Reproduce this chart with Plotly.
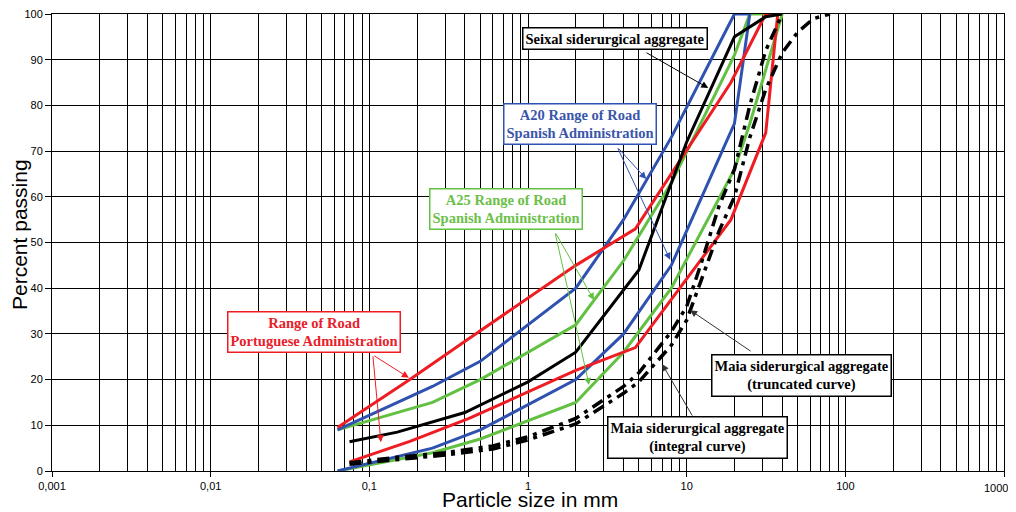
import math
import plotly.graph_objects as go

# ---------------- data ----------------
a20_upper_x = [0.063, 0.25, 0.5, 2, 4, 8, 20, 25]
a20_upper_y = [9, 18.5, 24, 40, 55, 73, 100, 100]
a20_lower_x = [0.063, 0.25, 0.5, 2, 4, 8, 20, 25]
a20_lower_y = [0, 5, 9, 20, 30, 45, 76, 100]

a25_upper_x = [0.063, 0.25, 0.5, 2, 4, 8, 20, 25, 40]
a25_upper_y = [9, 15, 20, 32, 46, 63, 91, 100, 100]
a25_lower_x = [0.063, 0.25, 0.5, 2, 4, 8, 20, 25, 40]
a25_lower_y = [0, 4, 7, 15, 26, 40, 66, 76, 100]

pt_upper_x = [0.063, 0.18, 0.425, 2, 4.75, 19, 31.5, 37.5]
pt_upper_y = [9.5, 20, 29, 45, 53, 85, 100, 100]
pt_lower_x = [0.075, 0.18, 0.425, 2, 4.75, 19, 31.5, 37.5]
pt_lower_y = [2, 6.5, 11.5, 22, 27, 55, 74, 100]

seixal_x = [0.075, 0.15, 0.4, 1, 2, 5, 10, 20, 31.5, 40]
seixal_y = [6.4, 8.5, 12.8, 19.5, 26, 44, 72, 95, 99.4, 100]

maia_trunc_x = [0.075, 0.15, 0.3, 0.6, 1, 2, 4, 5, 8, 10, 12.5, 16, 20, 25, 31.5, 40]
maia_trunc_y = [1.8, 3, 4, 5.5, 7.5, 11.5, 18.5, 21.5, 30.5, 36, 46, 58, 66, 80, 92, 100]

maia_int_x = [0.075, 0.15, 0.3, 0.6, 1, 2, 4, 5, 8, 10, 12.5, 16, 20, 25, 31.5, 40, 50, 63, 80]
maia_int_y = [1.5, 2.5, 3.5, 4.8, 6.8, 10.3, 17, 19.5, 27.5, 33, 42, 52.5, 60, 73, 83.5, 91.5, 96, 99, 100]

x_major = [0.001, 0.01, 0.1, 1, 10, 100, 1000]
x_major_text = ["0,001", "0,01", "0,1", "1", "10", "100", "1000"]
y_ticks = [0, 10, 20, 30, 40, 50, 60, 70, 80, 90, 100]

# ---------------- styles ----------------
BLUE = "#2F52B0"
RED = "#EE1D24"
GREEN = "#62C043"
BLACK = "#000000"
LW = 3

fig = go.Figure()

def add_line(x, y, color, dash="solid", width=LW):
    fig.add_trace(go.Scatter(x=x, y=y, mode="lines",
                             line=dict(color=color, width=width, dash=dash),
                             showlegend=False, hoverinfo="skip"))

add_line(a25_upper_x, a25_upper_y, GREEN)
add_line(a25_lower_x, a25_lower_y, GREEN)
add_line(a20_upper_x, a20_upper_y, BLUE)
add_line(a20_lower_x, a20_lower_y, BLUE)
add_line(pt_upper_x, pt_upper_y, RED)
add_line(pt_lower_x, pt_lower_y, RED)
add_line(seixal_x, seixal_y, BLACK)
add_line(maia_trunc_x, maia_trunc_y, BLACK, dash="12px,6px,4px,6px", width=3.5)
add_line(maia_int_x, maia_int_y, BLACK, dash="12px,6px,4px,6px", width=3.5)

# minor grid values (2..9 x each decade)
minor_vals = [m * 10 ** e for e in range(-3, 3) for m in range(2, 10)]

# the last major label sits at the page edge: draw it as an annotation instead
axis_text = x_major_text[:-1] + [""]

fig.update_xaxes(
    type="log", range=[-3, 3], automargin=False, ticklabeloverflow="allow",
    tickmode="array", tickvals=x_major, ticktext=axis_text,
    ticks="outside", ticklen=5, tickcolor="black",
    showgrid=True, gridcolor="black", gridwidth=1,
    minor=dict(tickmode="array", tickvals=minor_vals, showgrid=True,
               gridcolor="black", gridwidth=1, ticks=""),
    showline=True, linecolor="black", linewidth=1, mirror=True,
    tickfont=dict(family="Liberation Sans, Arial", size=11, color="black"),
    zeroline=False,
)
fig.update_yaxes(
    range=[0, 100], automargin=False, ticklabeloverflow="allow",
    tickmode="array", tickvals=y_ticks,
    ticks="outside", ticklen=6, tickcolor="black",
    showgrid=True, gridcolor="black", gridwidth=1,
    showline=True, linecolor="black", linewidth=1, mirror=True,
    tickfont=dict(family="Liberation Sans, Arial", size=11, color="black"),
    zeroline=False,
)

fig.add_annotation(x=1.0, y=(471 - 488) / 457, xref="paper", yref="paper",
                   xanchor="right", xshift=6, yanchor="middle", text=x_major_text[-1],
                   showarrow=False,
                   font=dict(family="Liberation Sans, Arial", size=11, color="black"))

SERIF = "Liberation Serif, Times New Roman, serif"

def box(text, x, y, color, textcolor):
    fig.add_annotation(x=math.log10(x), y=y, xref="x", yref="y", text=text,
                       showarrow=False, align="center",
                       xanchor="center", yanchor="middle",
                       font=dict(family=SERIF, size=14.5, color=textcolor),
                       bgcolor="white", bordercolor=color, borderwidth=1.5,
                       borderpad=2)

def arrow(x0, y0, x1, y1, color):
    fig.add_annotation(x=math.log10(x1), y=y1, ax=math.log10(x0), ay=y0,
                       xref="x", yref="y", axref="x", ayref="y", text="",
                       showarrow=True, arrowhead=2, arrowsize=1.4,
                       arrowwidth=1, arrowcolor=color, standoff=0,
                       startstandoff=0)

# arrows (drawn first so boxes sit on top)
arrow(10 ** 0.738, 91.7, 10 ** 1.136, 83.8, BLACK)
arrow(10 ** 0.562, 70.9, 10 ** 0.745, 63.9, BLUE)
arrow(10 ** 0.562, 70.9, 10 ** 0.896, 46.2, BLUE)
arrow(10 ** 0.170, 52.3, 10 ** 0.416, 37.4, GREEN)
arrow(10 ** 0.170, 52.3, 10 ** 0.385, 18.8, GREEN)
arrow(10 ** -0.978, 25.4, 10 ** -0.751, 20.4, RED)
arrow(10 ** -0.978, 25.4, 10 ** -0.927, 6.3, RED)
arrow(10 ** 1.413, 26.0, 10 ** 1.022, 35.2, "#333333")
arrow(10 ** 1.041, 11.8, 10 ** 0.845, 23.4, "#333333")

box("<b>Seixal siderurgical aggregate</b>", 10 ** 0.549, 94.7, BLACK, BLACK)
box("<b>A20 Range of Road<br>Spanish Administration</b>", 10 ** 0.328, 75.9, BLUE, "#3A56AA")
box("<b>A25 Range of Road<br>Spanish Administration</b>", 10 ** -0.139, 57.3, GREEN, "#6CC04A")
box("<b>Range of Road<br>Portuguese Administration</b>", 10 ** -1.350, 30.4, RED, "#E8202A")
box("<b>Maia siderurgical aggregate<br>(truncated curve)</b>", 10 ** 1.722, 20.8, BLACK, BLACK)
box("<b>Maia siderurgical aggregate<br>(integral curve)</b>", 10 ** 1.066, 7.4, BLACK, BLACK)

# axis titles (page is offset by the browser's 8px body margin)
fig.add_annotation(x=(19 - 52) / 952, y=(471 - 235) / 457, xref="paper", yref="paper",
                   xanchor="center", yanchor="middle",
                   text="Percent passing", textangle=-90, showarrow=False,
                   font=dict(family="Liberation Sans, Arial", size=21, color="black"))
fig.add_annotation(x=(530 - 52) / 952, y=(471 - 499) / 457, xref="paper", yref="paper",
                   xanchor="center", yanchor="middle",
                   text="Particle size in mm", showarrow=False,
                   font=dict(family="Liberation Sans, Arial", size=21, color="black"))

fig.update_layout(
    width=1008, height=504,
    margin=dict(l=44, r=12, t=6, b=41, autoexpand=False),
    plot_bgcolor="white", paper_bgcolor="white",
    showlegend=False,
)

fig.write_html("out.html")
